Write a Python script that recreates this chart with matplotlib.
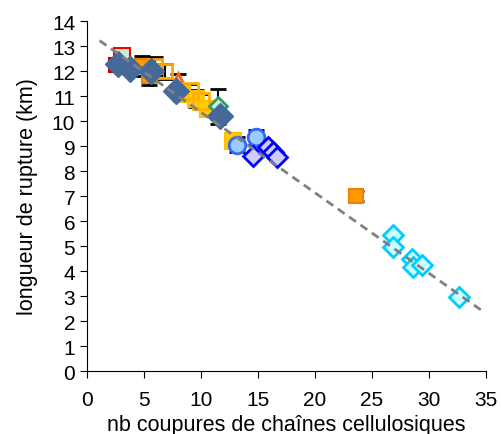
import numpy as np
import matplotlib.pyplot as plt

plt.rcParams['font.family'] = ['Liberation Sans', 'DejaVu Sans']

# series data (nb coupures, longueur de rupture km, error)
red_x = [2.5]
red_y = [12.25]
red_err = [0.25]

green_sq_x = [3.1]
green_sq_y = [12.6]
green_sq_err = [0.3]

orange_x = [4.8, 5.4, 23.6]
orange_y = [12.2, 11.8, 7.0]
orange_err = [0.4, 0.35, 0.2]

orange_open_x = [6.0, 6.8]
orange_open_y = [12.2, 12.0]
orange_open_err = [0.35, 0.3]

tri_x = [8.0]
tri_y = [11.6]
tri_err = [0.3]

yellow_x = [8.3, 9.6, 10.6, 12.8]
yellow_y = [11.1, 10.9, 10.5, 9.2]
yellow_err = [0.3, 0.35, 0.3, 0.25]

yellow_open_x = [9.0, 10.0]
yellow_open_y = [11.2, 10.8]
yellow_open_err = [0.3, 0.3]

green_d_x = [11.5]
green_d_y = [10.6]
green_d_err = [0.7]

steel_x = [2.7, 3.8, 5.6, 7.8, 11.7]
steel_y = [12.3, 12.1, 12.0, 11.2, 10.2]

circle_x = [13.2, 14.8]
circle_y = [9.05, 9.35]
circle_err = [0.3, 0.3]

blue_d_x = [14.6, 15.9, 16.3, 16.7]
blue_d_y = [8.6, 8.95, 8.75, 8.55]

cyan_x = [26.8, 26.8, 28.5, 28.6, 29.4, 32.6]
cyan_y = [5.44, 4.95, 4.5, 4.15, 4.25, 2.95]

# trend line
slope = -0.322
intercept = 13.57
line_x = [1.1, 34.8]

fig = plt.figure(figsize=(5.01, 4.35), dpi=100)
ax = fig.add_axes([0.1737, 0.1448, 0.7963, 0.8046])

eb = dict(fmt='none', ecolor='black', elinewidth=1.5, capsize=6, capthick=2, zorder=2)
ax.errorbar(red_x, red_y, yerr=red_err, **eb)
ax.errorbar(green_sq_x, green_sq_y, yerr=green_sq_err, **eb)
ax.errorbar(orange_x, orange_y, yerr=orange_err, **eb)
ax.errorbar(orange_open_x, orange_open_y, yerr=orange_open_err, **eb)
ax.errorbar(tri_x, tri_y, yerr=tri_err, **eb)
ax.errorbar(yellow_x, yellow_y, yerr=yellow_err, **eb)
ax.errorbar(yellow_open_x, yellow_open_y, yerr=yellow_open_err, **eb)
ax.errorbar(green_d_x, green_d_y, yerr=green_d_err, **eb)
ax.errorbar(circle_x, circle_y, yerr=circle_err, **eb)

ax.plot(red_x, red_y, 's', ms=10, mfc='#ff0000', mec='#cc0000', mew=1.5, zorder=3)
ax.plot(green_sq_x, green_sq_y, 's', ms=11, mfc='#c6efce', mec='#ff0000', mew=1.5, zorder=3)
ax.plot(orange_x, orange_y, 's', ms=10, mfc='#ff9900', mec='#f08000', mew=1.5, zorder=3)
ax.plot(orange_open_x, orange_open_y, 's', ms=10, mfc='none', mec='#ffa500', mew=2, zorder=3)
ax.plot(tri_x, tri_y, '^', ms=12, mfc='#ffc090', mec='#ff6600', mew=2, zorder=3)
ax.plot(yellow_x, yellow_y, 's', ms=12, mfc='#ffcc00', mec='#ffc000', mew=1.5, zorder=3)
ax.plot(yellow_open_x, yellow_open_y, 's', ms=11, mfc='none', mec='#ffb000', mew=2, zorder=3)
ax.plot(green_d_x, green_d_y, 'D', ms=9, mfc='#ccffcc', mec='#339966', mew=2, zorder=3)
ax.plot(circle_x, circle_y, 'o', ms=12, mfc='#99ccff', mec='#3366ff', mew=2, zorder=3)
ax.plot(blue_d_x, blue_d_y, 'D', ms=10, mfc='#ccccff', mec='#0000ff', mew=2, zorder=3)
ax.plot(steel_x, steel_y, 'D', ms=13, mfc='#44699a', mec='#44699a', zorder=4)
ax.plot(cyan_x, cyan_y, 'D', ms=10, mfc='#ccffff', mec='#00ccff', mew=2, zorder=3)

line_y = [slope * v + intercept for v in line_x]
ax.plot(line_x, line_y, '--', color='#808080', lw=2, dashes=(3, 2), zorder=5)

ax.set_xlim(0, 35)
ax.set_ylim(0, 14)
ax.set_xticks(range(0, 36, 5))
ax.set_yticks(range(0, 15, 1))
ax.spines['top'].set_visible(False)
ax.spines['right'].set_visible(False)
ax.tick_params(labelsize=15, length=5, width=0.8)
ax.tick_params(axis='x', pad=9)
ax.set_xlabel('nb coupures de chaînes cellulosiques', fontsize=15.5, labelpad=3)
ax.set_ylabel('longueur de rupture (km)', fontsize=15.5, labelpad=10)

fig.savefig('out.png', dpi=100)
